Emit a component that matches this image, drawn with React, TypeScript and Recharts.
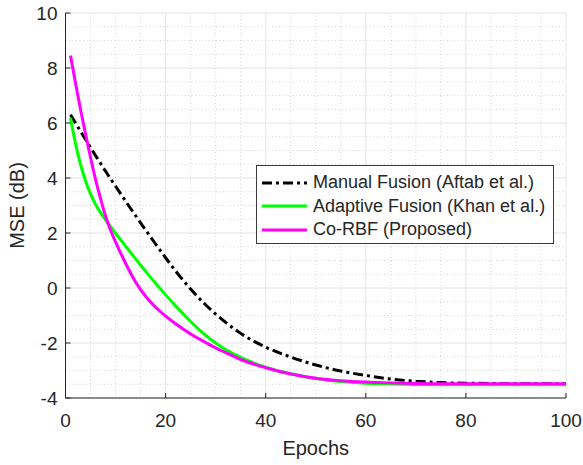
import {
  LineChart,
  Line,
  XAxis,
  YAxis,
  CartesianGrid,
  Legend,
  ReferenceLine,
} from "recharts";

const epochs = [1, 2, 3, 4, 5, 6, 7, 8, 9, 10, 12, 14, 16, 18, 20, 22, 25, 28, 30, 32, 35, 40, 45, 50, 55, 60, 65, 70, 75, 80, 90, 100];

const manualFusion = [6.3, 6.0, 5.7, 5.4, 5.11, 4.82, 4.53, 4.25, 3.97, 3.7, 3.16, 2.63, 2.11, 1.6, 1.1, 0.62, -0.04, -0.61, -0.95, -1.25, -1.65, -2.15, -2.51, -2.8, -3.02, -3.18, -3.31, -3.39, -3.44, -3.46, -3.48, -3.48];
const adaptiveFusion = [6.18, 5.25, 4.5, 3.9, 3.42, 3.04, 2.74, 2.48, 2.23, 1.99, 1.52, 1.06, 0.61, 0.17, -0.25, -0.65, -1.22, -1.72, -2.0, -2.24, -2.52, -2.88, -3.12, -3.29, -3.4, -3.46, -3.49, -3.51, -3.52, -3.52, -3.52, -3.52];
const coRbf = [8.45, 7.45, 6.5, 5.6, 4.75, 3.95, 3.25, 2.62, 2.1, 1.68, 0.9, 0.22, -0.3, -0.7, -1.02, -1.3, -1.67, -1.98, -2.18, -2.35, -2.6, -2.9, -3.13, -3.28, -3.37, -3.42, -3.45, -3.47, -3.48, -3.48, -3.48, -3.48];

const seriesNames = ["Manual Fusion (Aftab et al.)", "Adaptive Fusion (Khan et al.)", "Co-RBF (Proposed)"];

const xTicks = [0, 20, 40, 60, 80, 100];
const yTicks = [-4, -2, 0, 2, 4, 6, 8, 10];
const xMinor = [5, 10, 15, 25, 30, 35, 45, 50, 55, 65, 70, 75, 85, 90, 95];
const yMinor = [-3.5, -3, -2.5, -1.5, -1, -0.5, 0.5, 1, 1.5, 2.5, 3, 3.5, 4.5, 5, 5.5, 6.5, 7, 7.5, 8.5, 9, 9.5];

const data = epochs.map((epoch, i) => ({
  epoch,
  manual: manualFusion[i],
  adaptive: adaptiveFusion[i],
  corbf: coRbf[i],
}));

const FONT = "'Liberation Sans', Arial, Helvetica, sans-serif";
const AXIS = "#262626";
const TICK_MARGIN = 10;
const DASH = "10 4 3 4";

const XTick = (props: any) => {
  const { x, y, payload } = props;
  const axisY = y - TICK_MARGIN;
  return (
    <g>
      <line x1={x} y1={axisY} x2={x} y2={axisY - 5} stroke={AXIS} strokeWidth={1} />
      <text x={x} y={axisY + 29} textAnchor="middle" fontSize={19} fill={AXIS} fontFamily={FONT}>
        {payload.value}
      </text>
    </g>
  );
};

const YTick = (props: any) => {
  const { x, y, payload } = props;
  const axisX = x + TICK_MARGIN;
  return (
    <g>
      <line x1={axisX} y1={y} x2={axisX + 5} y2={y} stroke={AXIS} strokeWidth={1} />
      <text x={axisX - 8} y={y + 7} textAnchor="end" fontSize={19} fill={AXIS} fontFamily={FONT}>
        {payload.value}
      </text>
    </g>
  );
};

const LegendBox = (props: any) => {
  const items = [...(props.payload || [])].sort(
    (a: any, b: any) => seriesNames.indexOf(a.value) - seriesNames.indexOf(b.value)
  );
  return (
    <div
      style={{
        border: "1px solid #3a3a3a",
        background: "#fff",
        width: 298,
        height: 79,
        padding: "5px 0 0 0",
        boxSizing: "border-box",
        fontFamily: FONT,
        fontSize: 18,
        color: AXIS,
      }}
    >
      {items.map((it: any) => (
        <div key={it.value} style={{ display: "flex", alignItems: "center", height: 23.5 }}>
          <svg width={56} height={10} style={{ flex: "none" }}>
            <line
              x1={5}
              y1={5}
              x2={50}
              y2={5}
              stroke={it.color}
              strokeWidth={3}
              strokeDasharray={it.payload?.strokeDasharray}
            />
          </svg>
          <span style={{ whiteSpace: "nowrap" }}>{it.value}</span>
        </div>
      ))}
    </div>
  );
};

const XLabel = (props: any) => {
  const vb = props.viewBox;
  return (
    <text x={vb.x + vb.width / 2} y={vb.y + 57} textAnchor="middle" fontSize={20} fill={AXIS} fontFamily={FONT}>
      Epochs
    </text>
  );
};

const YLabel = (props: any) => {
  const vb = props.viewBox;
  const cx = vb.x + 24;
  const cy = vb.y + vb.height / 2;
  return (
    <text
      x={cx}
      y={cy}
      transform={`rotate(-90, ${cx}, ${cy})`}
      textAnchor="middle"
      fontSize={20}
      fill={AXIS}
      fontFamily={FONT}
    >
      MSE (dB)
    </text>
  );
};

export default function App() {
  return (
    <div style={{ position: "absolute", left: 0, top: 0, width: 583, height: 465, background: "#fff" }}>
      <LineChart width={583} height={465} data={data} margin={{ top: 13, right: 17, bottom: 0, left: 0 }}>
        <CartesianGrid stroke="#e4e4e4" strokeWidth={1} />
        {xMinor.map((v) => (
          <ReferenceLine key={`x${v}`} x={v} stroke="#d4d4d4" strokeDasharray="1 2.5" />
        ))}
        {yMinor.map((v) => (
          <ReferenceLine key={`y${v}`} y={v} stroke="#d4d4d4" strokeDasharray="1 2.5" />
        ))}
        <XAxis
          dataKey="epoch"
          type="number"
          domain={[0, 100]}
          ticks={xTicks}
          height={67}
          axisLine={{ stroke: AXIS }}
          tickLine={false}
          tickSize={0}
          tickMargin={TICK_MARGIN}
          tick={(p: any) => <XTick {...p} />}
          interval={0}
          label={XLabel}
        />
        <YAxis
          type="number"
          domain={[-4, 10]}
          ticks={yTicks}
          width={65.5}
          axisLine={{ stroke: AXIS }}
          tickLine={false}
          tickSize={0}
          tickMargin={TICK_MARGIN}
          tick={(p: any) => <YTick {...p} />}
          interval={0}
          label={YLabel}
        />
        <Legend
          layout="vertical"
          align="center"
          verticalAlign="middle"
          content={LegendBox}
          wrapperStyle={{ position: "absolute", left: 256, top: 165, width: 298, height: 79 }}
        />
        <Line
          type="monotone"
          dataKey="manual"
          name={seriesNames[0]}
          stroke="#000000"
          strokeWidth={3}
          strokeDasharray={DASH}
          dot={false}
          isAnimationActive={false}
        />
        <Line
          type="monotone"
          dataKey="adaptive"
          name={seriesNames[1]}
          stroke="#00ff00"
          strokeWidth={3}
          dot={false}
          isAnimationActive={false}
        />
        <Line
          type="monotone"
          dataKey="corbf"
          name={seriesNames[2]}
          stroke="#ff00ff"
          strokeWidth={3}
          dot={false}
          isAnimationActive={false}
        />
      </LineChart>
    </div>
  );
}
